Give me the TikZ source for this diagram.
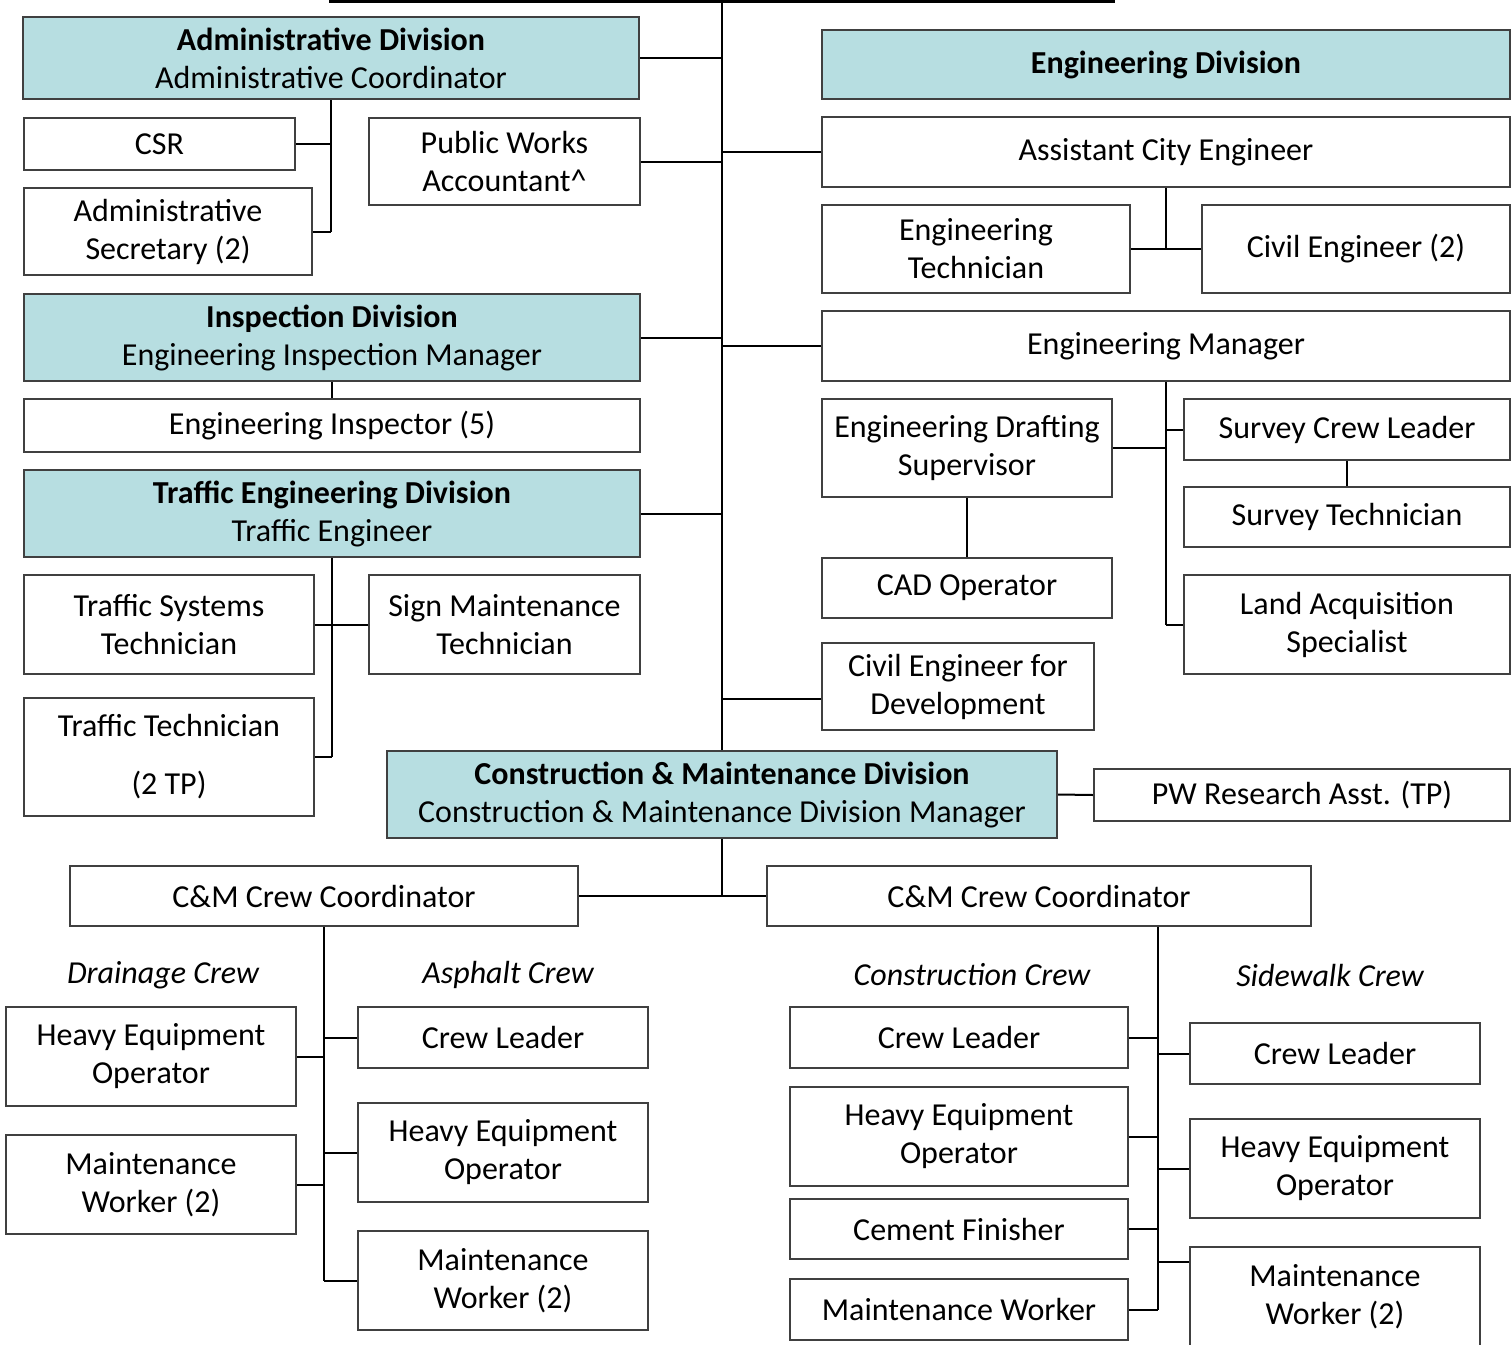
\documentclass[tikz,border=0pt]{standalone}
\usepackage{fontspec}
\setmainfont{Carlito}
\usepackage{tikz}
\usetikzlibrary{positioning}
\pgfdeclarelayer{background}
\pgfdeclarelayer{foreground}
\pgfsetlayers{background,main,foreground}
\definecolor{divfill}{HTML}{B7DEE1}
\definecolor{boxline}{HTML}{404040}

\begin{document}
\begin{tikzpicture}[x=0.5pt,y=-0.5pt,
			jobnode/.style={rectangle, draw=boxline, line width=1pt, fill=white, align=center, inner sep=0pt, font=\fontsize{16}{19}\selectfont},
			divnode/.style={jobnode, fill=divfill},
			size/.style 2 args={minimum width=#1, minimum height=#2},
			crewname/.style={font=\fontsize{16}{19}\selectfont\itshape},
			link/.style={line width=1pt},
			]
			\useasboundingbox (0,0) rectangle (1512,1345);
			%Nodes, left column
			\node[divnode, size={308pt}{41pt}]      (admdiv)     at (331,58)      {\textbf{Administrative Division}\\Administrative Coordinator};
			\node[jobnode, size={135.5pt}{26pt}]    (csr)        at (159.5,144)   {CSR};
			\node[jobnode, size={144pt}{43.5pt}]    (admsec)     at (168,231.5)   {Administrative\\Secretary (2)};
			\node[jobnode, size={135.5pt}{43.5pt}]  (pwacct)     at (504.5,161.5) {Public Works\\Accountant\^{}};
			\node[divnode, size={308pt}{43.5pt}]    (inspdiv)    at (332,337.5)   {\textbf{Inspection Division}\\Engineering Inspection Manager};
			\node[jobnode, size={308pt}{26.5pt}]    (engins)     at (332,425.5)   {Engineering Inspector (5)};
			\node[divnode, size={308pt}{43.5pt}]    (trafdiv)    at (332,513.5)   {\textbf{Traffic Engineering Division}\\Traffic Engineer};
			\node[jobnode, size={145pt}{49.5pt}]    (trafsys)    at (169,624.5)   {Traffic Systems\\Technician};
			\node[jobnode, size={135.5pt}{49.5pt}]  (signmaint)  at (504.5,624.5) {Sign Maintenance\\Technician};
			\node[jobnode, size={145pt}{59pt}]      (traftech)   at (169,757)     {Traffic Technician\\[10pt](2 TP)};
			
			%Nodes, right column
			\node[divnode, size={344pt}{34.5pt}]    (engdiv)     at (1166,64.5)   {\textbf{Engineering Division}};
			\node[jobnode, size={344pt}{35pt}]      (asstce)     at (1166,152)    {Assistant City Engineer};
			\node[jobnode, size={154pt}{44pt}]      (engtech)    at (976,249)     {Engineering\\Technician};
			\node[jobnode, size={154pt}{44pt}]      (civeng)     at (1356,249)    {Civil Engineer (2)};
			\node[jobnode, size={344pt}{35pt}]      (engmgr)     at (1166,346)    {Engineering Manager};
			\node[jobnode, size={145pt}{49pt}]      (draftsup)   at (967,448)     {Engineering Drafting\\Supervisor};
			\node[jobnode, size={163pt}{30.5pt}]    (survlead)   at (1347,429.5)  {Survey Crew Leader};
			\node[jobnode, size={163pt}{30pt}]      (survtech)   at (1347,517)    {Survey Technician};
			\node[jobnode, size={163pt}{49.5pt}]    (landacq)    at (1347,624.5)  {Land Acquisition\\Specialist};
			\node[jobnode, size={145pt}{30pt}]      (cadop)      at (967,588)     {CAD Operator};
			\node[jobnode, size={136pt}{43.5pt}]    (civdev)     at (958,686.5)   {Civil Engineer for\\Development};
			
			%Nodes, construction and maintenance
			\node[divnode, size={335pt}{43.5pt}]    (cmdiv)      at (722,794.5)   {\textbf{Construction \& Maintenance Division}\\Construction \& Maintenance Division Manager};
			\node[jobnode, size={208pt}{26pt}]      (pwres)      at (1302,795)    {PW Research Asst. (TP)};
			\node[jobnode, size={254pt}{30pt}]      (crewL)      at (324,896)     {C\&M Crew Coordinator};
			\node[jobnode, size={272pt}{30pt}]      (crewR)      at (1039,896)    {C\&M Crew Coordinator};
			
			\node[crewname] (drain)  at (163,975)  {Drainage Crew};
			\node[crewname] (asph)   at (508,975)  {Asphalt Crew};
			\node[crewname] (constr) at (972,975)  {Construction Crew};
			\node[crewname] (sidew)  at (1330,975) {Sidewalk Crew};
			
			\node[jobnode, size={145pt}{49.5pt}]    (drheo)      at (151,1056.5)  {Heavy Equipment\\Operator};
			\node[jobnode, size={145pt}{49.5pt}]    (drmw)       at (151,1184.5)  {Maintenance\\Worker (2)};
			\node[jobnode, size={145pt}{30.5pt}]    (aslead)     at (503,1037.5)  {Crew Leader};
			\node[jobnode, size={145pt}{49.5pt}]    (asheo)      at (503,1152.5)  {Heavy Equipment\\Operator};
			\node[jobnode, size={145pt}{49.5pt}]    (asmw)       at (503,1280.5)  {Maintenance\\Worker (2)};
			\node[jobnode, size={169pt}{30.5pt}]    (colead)     at (959,1037.5)  {Crew Leader};
			\node[jobnode, size={169pt}{49.5pt}]    (coheo)      at (959,1136.5)  {Heavy Equipment\\Operator};
			\node[jobnode, size={169pt}{30pt}]      (cocem)      at (959,1229)    {Cement Finisher};
			\node[jobnode, size={169pt}{30.5pt}]    (comw)       at (959,1309.5)  {Maintenance Worker};
			\node[jobnode, size={145pt}{30.5pt}]    (swlead)     at (1335,1053.5) {Crew Leader};
			\node[jobnode, size={145pt}{49.5pt}]    (swheo)      at (1335,1168.5) {Heavy Equipment\\Operator};
			\node[jobnode, size={145pt}{50pt}]      (swmw)       at (1335,1297)   {Maintenance\\Worker (2)};
			
			\begin{pgfonlayer}{background}
			%Lines
			\coordinate (top)  at (722,0);
			\draw[line width=3pt] (329,0) -- (1115,0);
			\draw[link] (top) -- (cmdiv.north);
			\foreach \dv in {admdiv,pwacct,inspdiv,trafdiv}
				\draw[link] (\dv.east) -- (\dv.east -| top);
			\foreach \dv in {asstce,engmgr}
				\draw[link] (\dv.west) -- (\dv.west -| top);
			\coordinate (civdevin) at ([yshift=-6pt]civdev.west);
			\draw[link] (civdevin) -- (civdevin -| top);
			
			\draw[link] (admdiv.south) -- (admdiv.south |- admsec.east);
			\draw[link] (csr.east) -- (csr.east -| admdiv.south);
			\draw[link] (admsec.east) -- (admsec.east -| admdiv.south);
			\draw[link] (inspdiv.south) -- (engins.north);
			\draw[link] (trafdiv.south) -- (trafdiv.south |- traftech.east);
			\draw[link] (trafsys.east) -- (signmaint.west);
			\draw[link] (traftech.east) -- (traftech.east -| trafdiv.south);
			
			\draw[link] (asstce.south) -- (asstce.south |- engtech.east);
			\draw[link] (engtech.east) -- (civeng.west);
			\draw[link] (engmgr.south) -- (engmgr.south |- landacq.west);
			\draw[link] (survlead.west) -- (survlead.west -| engmgr.south);
			\draw[link] (draftsup.east) -- (draftsup.east -| engmgr.south);
			\draw[link] (landacq.west) -- (landacq.west -| engmgr.south);
			\draw[link] (survlead.south) -- (survtech.north);
			\draw[link] (draftsup.south) -- (cadop.north);
			
			\draw[link] (cmdiv.east) -- (pwres.west);
			\draw[link] (cmdiv.south) -- (cmdiv.south |- crewL.east);
			\draw[link] (crewL.east) -- (crewR.west);
			
			\draw[link] (crewL.south) -- (crewL.south |- asmw.west);
			\foreach \jb in {drheo,drmw}
				\draw[link] (\jb.east) -- (\jb.east -| crewL.south);
			\foreach \jb in {aslead,asheo,asmw}
				\draw[link] (\jb.west) -- (\jb.west -| crewL.south);
			
			\coordinate (crR) at ([xshift=59.5pt]crewR.south);
			\draw[link] (crR) -- (crR |- comw.east);
			\foreach \jb in {colead,coheo,cocem,comw}
				\draw[link] (\jb.east) -- (\jb.east -| crR);
			\foreach \jb in {swlead,swheo}
				\draw[link] (\jb.west) -- (\jb.west -| crR);
			\coordinate (swmwin) at ([yshift=-8pt]swmw.north west);
			\draw[link] (swmwin) -- (swmwin -| crR);
			\end{pgfonlayer}
		\end{tikzpicture}
\end{document}
